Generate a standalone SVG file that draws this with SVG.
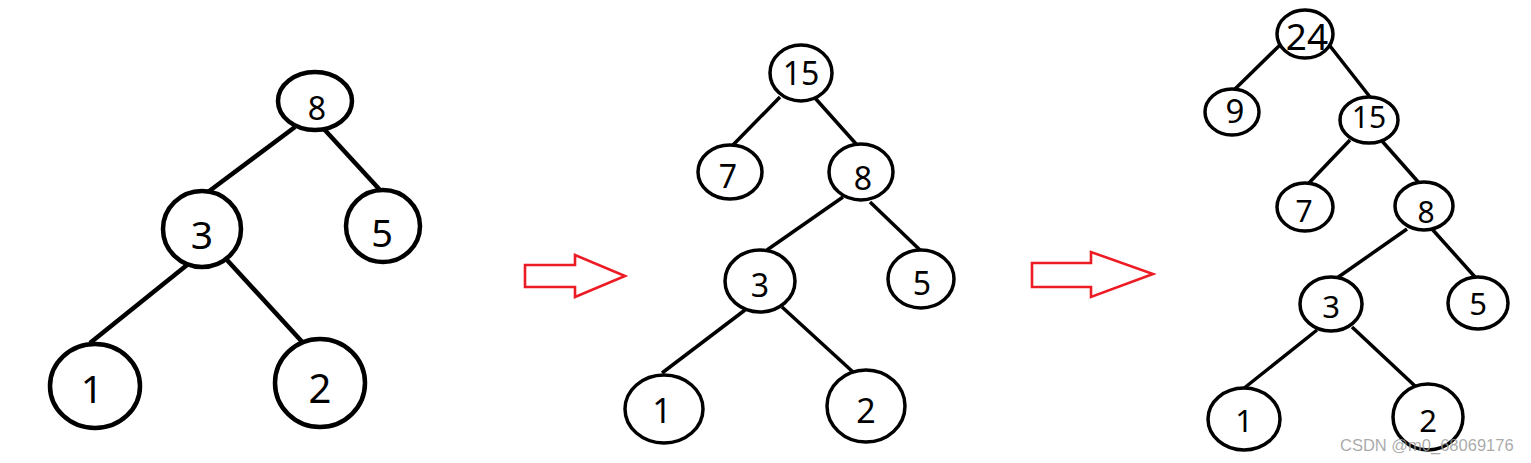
<svg xmlns="http://www.w3.org/2000/svg" width="1531" height="463" viewBox="0 0 1531 463">
<style>
.n{fill:#fff;stroke:#000}
.t1 .n{stroke-width:4.5}
.t2 .n,.t3 .n{stroke-width:3.5}
.e1 line{stroke:#000;stroke-width:4.5}
.e2 line,.e3 line{stroke:#000;stroke-width:3.5}
text.l{font-family:"Noto Sans","Open Sans",sans-serif;text-anchor:middle;fill:#000}
.arr{fill:none;stroke:#ed1c24;stroke-width:2.6;stroke-linejoin:miter}
.wm{font-family:"Liberation Sans",Arial,sans-serif;font-size:16.5px;fill:#9a9a9a;fill-opacity:0.85}
</style>
<rect width="1531" height="463" fill="#fff"/>
<g id="connectors">
<g class="e1">
<line x1="295" y1="127" x2="208" y2="192"/>
<line x1="323" y1="128" x2="380" y2="190"/>
<line x1="187" y1="265" x2="90" y2="343"/>
<line x1="227" y1="260" x2="305" y2="345"/>
</g>
<g class="e2">
<line x1="780" y1="97" x2="733" y2="145"/>
<line x1="815" y1="98" x2="857" y2="145"/>
<line x1="843" y1="197" x2="767" y2="250"/>
<line x1="870" y1="202" x2="920" y2="250"/>
<line x1="745" y1="310" x2="662" y2="373"/>
<line x1="782" y1="307" x2="853" y2="372"/>
</g>
<g class="e3">
<line x1="1280" y1="45" x2="1235" y2="89"/>
<line x1="1330" y1="46" x2="1370" y2="97"/>
<line x1="1350" y1="140" x2="1308" y2="184"/>
<line x1="1382" y1="141" x2="1420" y2="184"/>
<line x1="1407" y1="229" x2="1337" y2="278"/>
<line x1="1432" y1="229" x2="1475" y2="277"/>
<line x1="1317" y1="330" x2="1243" y2="389"/>
<line x1="1352" y1="327" x2="1415" y2="386"/>
</g>
</g>
<g class="t1">
<g id="t1-n8"><ellipse class="n" cx="315" cy="101" rx="37" ry="29"/><text class="l" x="317" y="120" font-size="32">8</text></g>
<g id="t1-n3"><ellipse class="n" cx="202" cy="229" rx="39" ry="38"/><text class="l" x="202" y="249" font-size="39">3</text></g>
<g id="t1-n5"><ellipse class="n" cx="383" cy="226" rx="37" ry="36"/><text class="l" x="382" y="247" font-size="38">5</text></g>
<g id="t1-n1"><ellipse class="n" cx="95" cy="386" rx="45" ry="42"/><text class="l" x="92" y="403" font-size="39">1</text></g>
<g id="t1-n2"><ellipse class="n" cx="320" cy="383" rx="45" ry="44"/><text class="l" x="320" y="403" font-size="40">2</text></g>
</g>
<g id="arrow1"><polygon class="arr" points="525,265 575,265 575,255 625,276 575,297 575,287 525,287"/></g>
<g class="t2">
<g id="t2-n15"><ellipse class="n" cx="801" cy="73" rx="31" ry="28"/><text class="l" x="801" y="85" font-size="32">15</text></g>
<g id="t2-n7"><ellipse class="n" cx="730" cy="172" rx="32" ry="27"/><text class="l" x="728" y="188" font-size="32">7</text></g>
<g id="t2-n8"><ellipse class="n" cx="861" cy="172" rx="32" ry="28"/><text class="l" x="863" y="190" font-size="32">8</text></g>
<g id="t2-n3"><ellipse class="n" cx="760" cy="281" rx="35" ry="31"/><text class="l" x="760" y="297" font-size="32">3</text></g>
<g id="t2-n5"><ellipse class="n" cx="921" cy="279" rx="33" ry="29"/><text class="l" x="922" y="295" font-size="32">5</text></g>
<g id="t2-n1"><ellipse class="n" cx="664" cy="409" rx="39" ry="34"/><text class="l" x="662" y="423" font-size="34">1</text></g>
<g id="t2-n2"><ellipse class="n" cx="866" cy="406" rx="39" ry="36"/><text class="l" x="866" y="423" font-size="34">2</text></g>
</g>
<g id="arrow2"><polygon class="arr" points="1032,263 1091,263 1091,252 1153,274 1091,297 1091,287 1032,287"/></g>
<g class="t3">
<g id="t3-n24"><ellipse class="n" cx="1305" cy="34" rx="28" ry="24"/><text class="l" x="1307" y="50" font-size="37">24</text></g>
<g id="t3-n9"><ellipse class="n" cx="1232" cy="112" rx="27" ry="23"/><text class="l" x="1235" y="123" font-size="33">9</text></g>
<g id="t3-n15"><ellipse class="n" cx="1369" cy="120" rx="29" ry="23"/><text class="l" x="1369" y="128" font-size="30">15</text></g>
<g id="t3-n7"><ellipse class="n" cx="1305" cy="207" rx="28" ry="24"/><text class="l" x="1304" y="222" font-size="30">7</text></g>
<g id="t3-n8"><ellipse class="n" cx="1424" cy="206" rx="29" ry="24"/><text class="l" x="1426" y="223" font-size="30">8</text></g>
<g id="t3-n3"><ellipse class="n" cx="1331" cy="304" rx="31" ry="27"/><text class="l" x="1331" y="318" font-size="31">3</text></g>
<g id="t3-n5"><ellipse class="n" cx="1478" cy="303" rx="30" ry="26"/><text class="l" x="1478" y="315" font-size="31">5</text></g>
<g id="t3-n1"><ellipse class="n" cx="1244" cy="419" rx="36" ry="31"/><text class="l" x="1244" y="432" font-size="31">1</text></g>
<g id="t3-n2"><ellipse class="n" cx="1428" cy="417" rx="35" ry="33"/><text class="l" x="1428" y="432" font-size="31">2</text></g>
</g>
<text class="wm" x="1340" y="451">CSDN @m0_68069176</text>
</svg>
